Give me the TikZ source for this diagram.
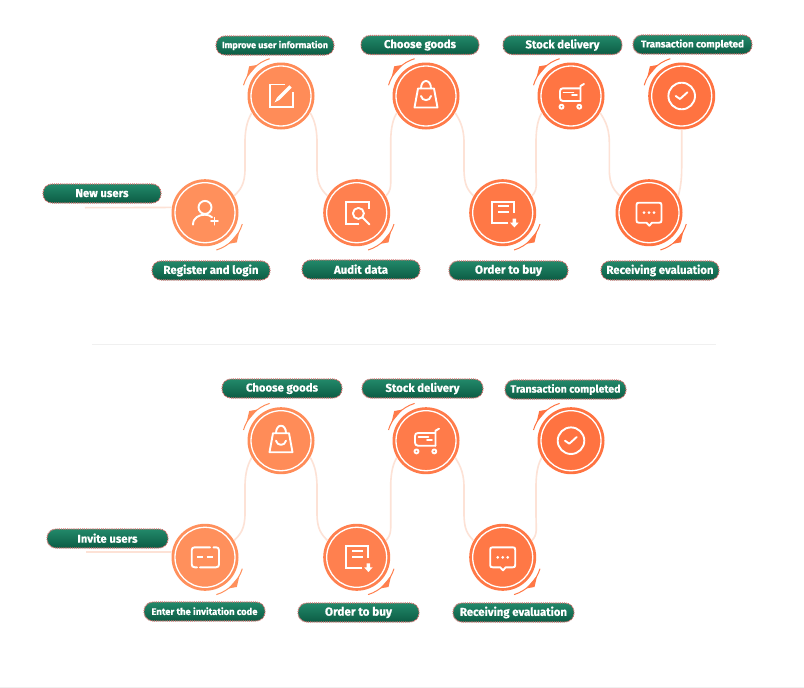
\documentclass[tikz,border=0pt]{standalone}
\usepackage{fontspec}
\setmainfont{Fira Sans}[BoldFeatures={FakeBold=0.5}]
\usetikzlibrary{calc}
\definecolor{linkc}{HTML}{FDE2D6}
\definecolor{pilltop}{HTML}{22896A}
\definecolor{pillbot}{HTML}{0C5C44}
\definecolor{pilledge}{HTML}{D0706E}
\definecolor{oa}{HTML}{FF905C}
\definecolor{ob}{HTML}{FF8C58}
\definecolor{oc}{HTML}{FF804F}
\definecolor{od}{HTML}{FF7B4A}
\definecolor{oe}{HTML}{FF7846}
\definecolor{of}{HTML}{FF7543}
\definecolor{og}{HTML}{FF7341}
\tikzset{
  pill/.style={draw=pilledge,dash pattern=on 1pt off 0.9pt,line width=1.1pt,rounded corners=9pt,top color=pilltop,bottom color=pillbot,text=white,inner sep=0pt,font=\bfseries},
  disc/.style={circle,minimum size=67pt,inner sep=0pt},
  ring/.style={draw=white,line width=1.3pt},
  conn/.style={draw=linkc,line width=1.6pt},
  ic/.style={draw=white,line width=1.9pt,line cap=round,line join=round},
  sep/.style={draw=black!6,line width=0.8pt}
}
% circle: name, x, y, colour
\newcommand{\stepdisc}[4]{%
  \node[disc,fill=#4] (#1) at (#2,#3) {};
  \draw[ring] (#1.center) circle (30pt);
}
% pill: name, x1, y1, x2, y2, text width, text
\newcommand{\lab}[7]{%
  \pgfmathsetmacro{\labw}{#4-#2}%
  \pgfmathsetmacro{\labh}{#5-#3}%
  \node[pill,minimum width=\labw pt,minimum height=\labh pt] (#1) at ({(#2+#4)/2},{(#3+#5)/2}) {\raisebox{0.8pt}{\resizebox{#6pt}{!}{#7}}};
}
\newcommand{\topacc}[2]{%
  \draw[draw=#2,line width=1pt] ([shift={(164:39pt)}]#1.center) arc[start angle=164,end angle=107,radius=39pt];
  \fill[#2] ([shift={(152:39pt)}]#1.center) -- ([shift={(137:43.5pt)}]#1.center) -- ([shift={(127:39pt)}]#1.center) -- cycle;
}
\newcommand{\botacc}[2]{%
  \draw[draw=#2,line width=1pt] ([shift={(-17:39pt)}]#1.center) arc[start angle=-17,end angle=-73,radius=39pt];
  \fill[#2] ([shift={(-28:39pt)}]#1.center) -- ([shift={(-43:43.5pt)}]#1.center) -- ([shift={(-53:39pt)}]#1.center) -- cycle;
}
% lower node, upper node, x of the vertical run
\newcommand{\upconn}[3]{%
  \coordinate (vx) at (#3,0);
  \draw[conn] (#1.30) .. controls +(6,-6) and ($(vx |- #1.center)+(0,-28)$) .. ($(vx |- #1.center)+(0,-44)$) -- ($(vx |- #2.center)+(0,46)$) .. controls ($(vx |- #2.center)+(0,30)$) and +(-3,5) .. (#2.210);
}
\newcommand{\downconn}[3]{%
  \coordinate (vx) at (#3,0);
  \draw[conn] (#1.-30) .. controls +(3,5) and ($(vx |- #1.center)+(0,30)$) .. ($(vx |- #1.center)+(0,46)$) -- ($(vx |- #2.center)+(0,-44)$) .. controls ($(vx |- #2.center)+(0,-28)$) and +(-6,-6) .. (#2.150);
}
\newcommand{\icPerson}[1]{\begin{scope}[shift={(#1.center)}]
  \draw[ic] (0,-5.3) circle (6.5pt);
  \draw[ic] (-12,12) .. controls (-12,5) and (-6,2) .. (0,2) .. controls (3,2) and (5,3) .. (7,4.5);
  \draw[ic] (6,8.5) -- (13,8.5) (9.5,5) -- (9.5,12);
\end{scope}}
\newcommand{\icEdit}[1]{\begin{scope}[shift={(#1.center)}]
  \draw[ic,line cap=butt,line join=miter] (4,-11.5) -- (-11,-11.5) -- (-11,11) -- (11.7,11) -- (11.7,-4);
  \draw[draw=white,line width=3.2pt] (-2.5,2.5) -- (9.5,-9.5);
  \fill[white] (-6.5,6.5) -- (-3.8,1.2) -- (-1.2,3.8) -- cycle;
\end{scope}}
\newcommand{\icBag}[1]{\begin{scope}[shift={(#1.center)}]
  \draw[ic] (-8,-7.5) -- (8,-7.5) -- (11.5,11.5) -- (-11.5,11.5) -- cycle;
  \draw[ic] (-5,-7.5) .. controls (-5,-17.5) and (5,-17.5) .. (5,-7.5);
  \draw[ic] (-5,0) .. controls (-4,5.5) and (4,5.5) .. (5,0);
\end{scope}}
\newcommand{\icCart}[1]{\begin{scope}[shift={(#1.center)}]
  \draw[ic] (9,-7.7) -- (-8,-7.7) .. controls (-10,-7.7) and (-11,-6.5) .. (-11,-4.7) -- (-11,1.7) .. controls (-11,3.7) and (-10,5) .. (-8,5) -- (9.5,5);
  \draw[ic] (9.5,5) -- (9.5,-10) -- (13,-12);
  \draw[ic] (-7.5,-3.5) -- (2.5,-3.5) (1,-0.8) -- (6,-0.8);
  \draw[ic] (-9.5,10.7) circle (2pt) (8.3,10.7) circle (2pt);
\end{scope}}
\newcommand{\icSearch}[1]{\begin{scope}[shift={(#1.center)}]
  \draw[ic,line cap=butt,line join=miter] (2.7,11.7) -- (-10.7,11.7) -- (-10.7,-11) -- (12.7,-11) -- (12.7,-4);
  \draw[ic] (1.7,0.7) circle (5.5pt);
  \draw[ic] (5.7,4.7) -- (12.7,11.7);
\end{scope}}
\newcommand{\icOrder}[1]{\begin{scope}[shift={(#1.center)}]
  \draw[ic,line cap=butt,line join=miter] (5.7,10.7) -- (-11,10.7) -- (-11,-11) -- (11.7,-11) -- (11.7,0.7);
  \draw[ic,line cap=butt] (-4.3,-6.7) -- (6.7,-6.7) (-4.3,-0.3) -- (6.7,-0.3);
  \fill[white] (10,6) -- (13.4,6) -- (13.4,10) -- (16,10) -- (11.7,14.7) -- (7.4,10) -- (10,10) -- cycle;
\end{scope}}
\newcommand{\icChat}[1]{\begin{scope}[shift={(#1.center)}]
  \draw[ic] (-10,-10) -- (10,-10) .. controls (12,-10) and (12.5,-9.5) .. (12.5,-7.5) -- (12.5,7.5) .. controls (12.5,9.5) and (12,10) .. (10,10) -- (3,10) -- (0.3,13) -- (-2.5,10) -- (-10,10) .. controls (-12,10) and (-12.5,9.5) .. (-12.5,7.5) -- (-12.5,-7.5) .. controls (-12.5,-9.5) and (-12,-10) .. (-10,-10) -- cycle;
  \fill[white] (-5,0) circle (1.5pt) (0,0) circle (1.5pt) (5,0) circle (1.5pt);
\end{scope}}
\newcommand{\icCheck}[1]{\begin{scope}[shift={(#1.center)}]
  \draw[ic] (0,0) circle (13.3pt);
  \draw[ic] (-6,0) -- (-1.7,3) -- (5.7,-3.7);
\end{scope}}
\newcommand{\icCard}[1]{\begin{scope}[shift={(#1.center)}]
  \draw[ic] (5,-10) -- (-10.3,-10) .. controls (-12.3,-10) and (-13.3,-9) .. (-13.3,-7) -- (-13.3,7) .. controls (-13.3,9) and (-12.3,10) .. (-10.3,10) -- (-8,10);
  \draw[ic] (-5,10) -- (11,10) .. controls (13,10) and (14,9) .. (14,7) -- (14,-7) .. controls (14,-9) and (13,-10) .. (11,-10) -- (8.5,-10);
  \draw[ic,line cap=butt] (-7.7,-0.7) -- (-1.7,-0.7) (1.7,-0.7) -- (8.3,-0.7);
\end{scope}}
\begin{document}
\begin{tikzpicture}[x=1pt,y=-1pt]
\useasboundingbox (0,0) rectangle (804,688);
\fill[white] (0,0) rectangle (804,688);
\coordinate (sepa) at (92,344);
\coordinate (sepb) at (716,344);
\draw[sep] (sepa) -- (sepb);
\coordinate (basea) at (0,687);
\coordinate (baseb) at (804,687);
\draw[sep] (basea) -- (baseb);
% upper row
\stepdisc{a1}{205}{212.7}{oa}
\stepdisc{a2}{281}{96}{ob}
\stepdisc{a3}{356.7}{212.7}{oc}
\stepdisc{a4}{426}{96}{od}
\stepdisc{a5}{502.7}{212.7}{oe}
\stepdisc{a6}{571}{96}{of}
\stepdisc{a7}{649}{212.7}{og}
\stepdisc{a8}{681.7}{96}{og}
\coordinate (sa) at (85,207.7);
\draw[conn] (sa) -- (a1.171);
\upconn{a1}{a2}{245}
\downconn{a2}{a3}{317}
\upconn{a3}{a4}{390.7}
\downconn{a4}{a5}{464}
\upconn{a5}{a6}{536}
\downconn{a6}{a7}{609.3}
\draw[conn] (a8.south) -- ($(a8.center)+(0,72)$) .. controls +(0,12) and +(2,-6) .. (a7.30);
\botacc{a1}{oa}\topacc{a2}{ob}\botacc{a3}{oc}\topacc{a4}{od}\botacc{a5}{oe}\topacc{a6}{of}\botacc{a7}{og}\topacc{a8}{og}
\icPerson{a1}\icEdit{a2}\icSearch{a3}\icBag{a4}\icOrder{a5}\icCart{a6}\icChat{a7}\icCheck{a8}
\lab{l0}{43}{184}{161}{203}{53}{New users}
\lab{l1}{152}{261}{270}{280}{95}{Register and login}
\lab{l2}{216}{36}{334}{55}{106}{Improve user information}
\lab{l3}{302}{260}{420}{279}{54}{Audit data}
\lab{l4}{361}{35.5}{479}{54.5}{72}{Choose goods}
\lab{l5}{449}{261}{568}{280}{67}{Order to buy}
\lab{l6}{503}{35.5}{622}{54.5}{74}{Stock delivery}
\lab{l7}{601}{261}{719}{280}{107}{Receiving evaluation}
\lab{l8}{633}{35}{752}{54}{103}{Transaction completed}
% lower row
\stepdisc{b1}{205}{557.3}{oa}
\stepdisc{b2}{281}{440.7}{ob}
\stepdisc{b3}{356.7}{557.3}{oc}
\stepdisc{b4}{426}{440.7}{od}
\stepdisc{b5}{502.7}{557.3}{oe}
\stepdisc{b6}{571}{440.7}{og}
\coordinate (sb) at (86,552);
\draw[conn] (sb) -- (b1.171);
\upconn{b1}{b2}{245}
\downconn{b2}{b3}{317}
\upconn{b3}{b4}{390.7}
\downconn{b4}{b5}{464}
\upconn{b5}{b6}{536}
\botacc{b1}{oa}\topacc{b2}{ob}\botacc{b3}{oc}\topacc{b4}{od}\botacc{b5}{oe}\topacc{b6}{og}
\icCard{b1}\icBag{b2}\icOrder{b3}\icCart{b4}\icChat{b5}\icCheck{b6}
\lab{m0}{47}{529}{168}{548}{60}{Invite users}
\lab{m1}{144}{602}{265}{621}{106}{Enter the invitation code}
\lab{m2}{222}{379}{342}{398}{72}{Choose goods}
\lab{m3}{298}{603}{419}{622}{67}{Order to buy}
\lab{m4}{362}{379}{483}{398}{74}{Stock delivery}
\lab{m5}{453}{603}{574}{622}{107}{Receiving evaluation}
\lab{m6}{505}{380}{626}{399}{110}{Transaction completed}
\end{tikzpicture}
\end{document}
